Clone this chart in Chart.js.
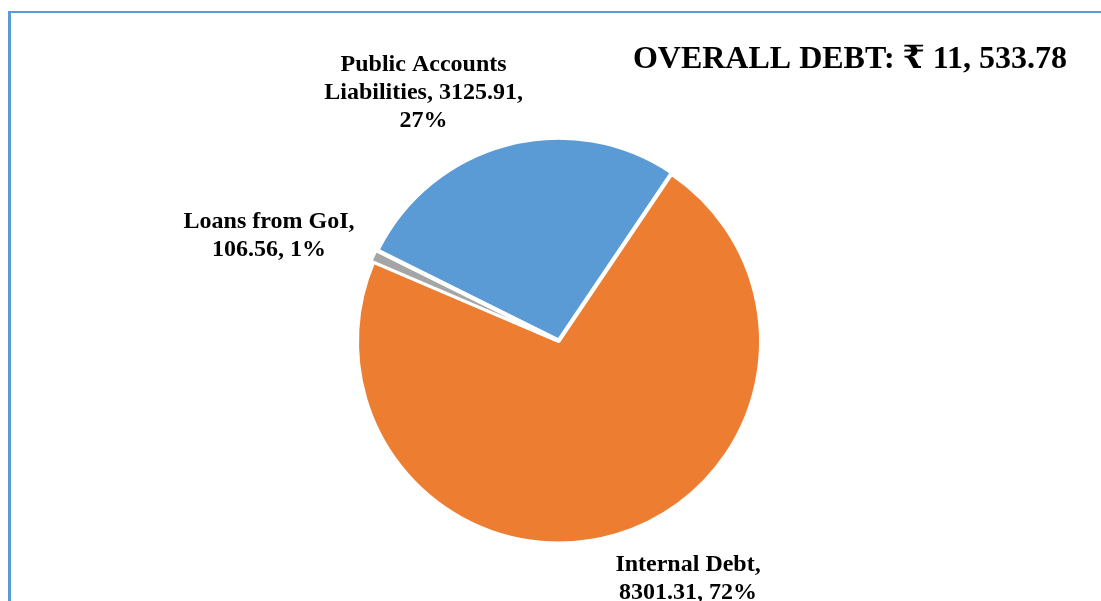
<!DOCTYPE html>
<html>
<head>
<meta charset="utf-8">
<script src="https://cdn.jsdelivr.net/npm/chart.js@4.4.1/dist/chart.umd.min.js"></script>
<style>
  html, body { margin: 0; padding: 0; background: #fff; }
  #wrap { position: relative; width: 1101px; height: 601px; overflow: hidden; }
  #frame {
    position: absolute; left: 8px; top: 11px; width: 1200px; height: 700px;
    border-left: 3px solid #5b9bd5; border-top: 2px solid #5b9bd5;
  }
  #debtChart { position: absolute; left: 0; top: 0; }
</style>
</head>
<body>
<div id="wrap">
  <div id="frame"></div>
  <canvas id="debtChart" width="1101" height="601"></canvas>
</div>
<script>
const categories = ['Internal Debt', 'Loans from GoI', 'Public Accounts Liabilities'];
const amounts = [8301.31, 106.56, 3125.91];
const sliceColors = ['#ed7d31', '#a5a5a5', '#5b9bd5'];
const overallDebt = '11, 533.78';

const total = amounts.reduce((a, b) => a + b, 0);
const shares = amounts.map(v => Math.round(v / total * 100));

// label text per slice, wrapped the same way as the printed labels
const labelLines = [
    ['Internal Debt,', amounts[0].toFixed(2) + ', ' + shares[0] + '%'],
    ['Loans from GoI,', amounts[1].toFixed(2) + ', ' + shares[1] + '%'],
    ['Public Accounts', 'Liabilities, ' + amounts[2].toFixed(2) + ',', shares[2] + '%']
];

const serif = '"Liberation Serif", "Times New Roman", "DejaVu Serif", serif';

// where each label sits relative to the outer edge of its slice
const labelShift = [[72, 44], [-107, -21], [-84, -54]];

const sliceLabels = {
    id: 'sliceLabels',
    afterDraw(chart) {
        const ctx = chart.ctx;
        const arcs = chart.getDatasetMeta(0).data;
        ctx.save();
        ctx.fillStyle = '#000';
        ctx.font = 'bold 24px ' + serif;
        ctx.textAlign = 'center';
        ctx.textBaseline = 'middle';
        arcs.forEach((arc, i) => {
            const p = arc.getProps(['x', 'y', 'startAngle', 'endAngle', 'outerRadius']);
            const mid = (p.startAngle + p.endAngle) / 2;
            const x = p.x + Math.cos(mid) * p.outerRadius + labelShift[i][0];
            const y = p.y + Math.sin(mid) * p.outerRadius + labelShift[i][1];
            const lines = labelLines[i];
            const lh = 28;
            lines.forEach((t, k) => {
                ctx.fillText(t, x, y + (k - (lines.length - 1) / 2) * lh);
            });
        });

        ctx.font = 'bold 32px ' + serif;
        ctx.textAlign = 'center';
        ctx.fillText('OVERALL DEBT: \u20B9 ' + overallDebt, 850, 60);
        ctx.restore();
    }
};

new Chart(document.getElementById('debtChart'), {
    type: 'pie',
    data: {
        labels: categories,
        datasets: [{
            data: amounts,
            backgroundColor: sliceColors,
            borderColor: '#ffffff',
            borderWidth: 3,
            offset: [0, 6, 7]
        }]
    },
    options: {
        responsive: false,
        animation: false,
        rotation: 34,
        layout: { padding: { left: 259, right: 242, top: 135, bottom: 53 } },
        plugins: {
            legend: { display: false },
            tooltip: { enabled: false }
        }
    },
    plugins: [sliceLabels]
});
</script>
</body>
</html>
